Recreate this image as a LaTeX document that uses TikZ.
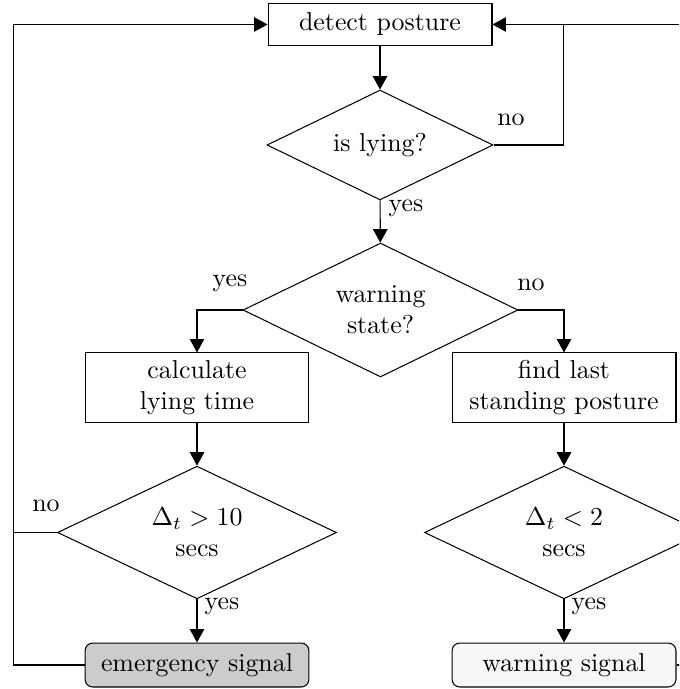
\documentclass[tikz,border=0pt]{standalone}
\usetikzlibrary{shapes.geometric,arrows.meta}
\begin{document}
\begin{tikzpicture}[x=0.3867pt,y=-0.3867pt,
  box/.style={draw,rectangle,align=center,inner sep=0pt,minimum width=86.6pt},
  onebox/.style={box,minimum height=16.6pt},
  twobox/.style={box,minimum height=26.7pt},
  sigbox/.style={box,rounded corners=3pt,minimum height=17pt},
  dec/.style={draw,diamond,aspect=2.06,align=center,inner sep=0pt},
  arr/.style={-{Triangle[length=5.2pt,width=5.6pt]}},
  lbl/.style={inner sep=0pt}]
\useasboundingbox (0,0) rectangle (679,689);
\clip (0,0) rectangle (679,689);
\node[onebox] (detect) at (380,24.5) {detect posture};
\node[dec,minimum width=87.4pt,minimum height=42.5pt] (lying) at (380,145) {is lying?};
\node[dec,minimum width=106.3pt,minimum height=51.8pt] (warn) at (380.5,310) {warning\\state?};
\node[twobox] (calc) at (197,387.5) {calculate\\lying time};
\node[twobox] (find) at (564,387.5) {find last\\standing posture};
\node[dec,minimum width=107.9pt,minimum height=51.3pt] (d10) at (197,532.5) {$\Delta_t > 10$\\secs};
\node[dec,minimum width=107.9pt,minimum height=51.3pt] (d2) at (564,532.5) {$\Delta_t < 2$\\secs};
\node[sigbox,fill=black!20] (emerg) at (197,665) {emergency signal};
\node[sigbox,fill=black!3] (wsig) at (564,665) {warning signal};
\coordinate (ltop) at (13.5,24.5);
\coordinate (rjn) at (563.5,24.5);
\coordinate (redge) at (700,24.5);
\coordinate (redge2) at (700,665);
\draw[arr] (detect) -- (lying);
\draw[arr] (lying) -- (warn);
\draw[arr] (warn.west) -| (calc.north);
\draw[arr] (warn.east) -| (find.north);
\draw[arr] (calc) -- (d10);
\draw[arr] (find) -- (d2);
\draw[arr] (d10) -- (emerg);
\draw[arr] (d2) -- (wsig);
\draw[arr] (emerg.west) -| (ltop) -- (detect.west);
\draw (d10.west) -- (d10.west -| ltop);
\draw[arr] (lying.east) -| (rjn) -- (detect.east);
\draw (redge) -- (rjn);
\draw (wsig.east) -- (redge2);
\node[lbl] at (511,120) {no};
\node[lbl] at (406,208) {yes};
\node[lbl] at (230,283) {yes};
\node[lbl] at (531,285) {no};
\node[lbl] at (46,506) {no};
\node[lbl] at (222,606) {yes};
\node[lbl] at (589,606) {yes};
\end{tikzpicture}
\end{document}
